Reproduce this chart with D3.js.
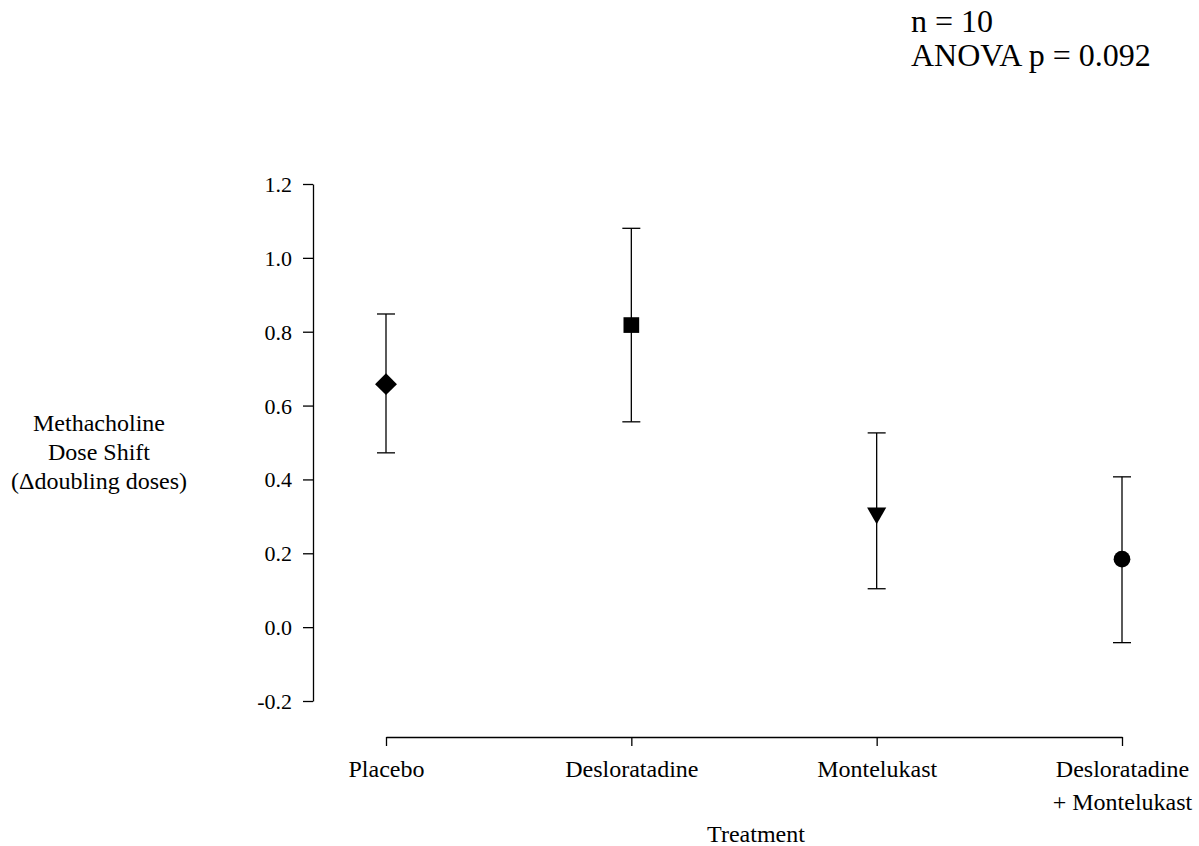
<!DOCTYPE html>
<html>
<head>
<meta charset="utf-8">
<script src="https://cdn.jsdelivr.net/npm/d3@7"></script>
<style>
  body { margin: 0; background: #fff; }
  svg text { font-family: "Liberation Serif", "Times New Roman", serif; fill: #000; }
</style>
</head>
<body>
<div id="stage"></div>
<script>

// values
var treatments = ["Placebo", "Desloratadine", "Montelukast", "Desloratadine\n+ Montelukast"];
var means = [0.658, 0.818, 0.309, 0.184];
var upper = [0.848, 1.080, 0.526, 0.407];
var lower = [0.472, 0.556, 0.104, -0.042];
var symbols = ["diamond", "square", "triangleDown", "circle"];
var yTicks = [-0.2, 0, 0.2, 0.4, 0.6, 0.8, 1.0, 1.2];

var W = 1199, H = 846;
var serif = "Liberation Serif, Times New Roman, serif";

var svg = d3.select("#stage")
  .append("svg")
  .attr("width", W)
  .attr("height", H);

var x = d3.scalePoint().domain(treatments).range([386, 1122]).padding(0);
var y = d3.scaleLinear().domain([-0.2, 1.2]).range([701, 184]);

// y axis
var fmt = d3.format(".1f");
var yAxis = d3.axisLeft(y).tickValues(yTicks).tickSize(10).tickSizeOuter(0)
  .tickFormat(function(d){ return fmt(d).replace("\u2212", "-"); });
var gy = svg.append("g").attr("transform", "translate(313,0)")
  .call(yAxis)
  .attr("font-family", serif).attr("font-size", 22);
gy.select(".domain").attr("stroke", "#000").attr("stroke-width", 1.3);
gy.selectAll(".tick line").attr("stroke", "#000").attr("stroke-width", 1.3);
gy.selectAll(".tick text")
  .attr("x", -21)
  .attr("dy", "0.34em")
  .style("font-size", "22px");

// x axis, detached below
var xAxis = d3.axisBottom(x).tickSize(9).tickSizeOuter(0).tickFormat("");
var gx = svg.append("g").attr("transform", "translate(0,737)").call(xAxis)
  .attr("font-family", serif);
gx.select(".domain").attr("stroke", "#000").attr("stroke-width", 1.3);
gx.selectAll(".tick line").attr("stroke", "#000").attr("stroke-width", 1.3);

gx.selectAll(".tick").each(function(d){
  var lines = d.split("\n");
  var t = d3.select(this).append("text")
    .attr("text-anchor", "middle")
    .style("font-size", "24px")
    .attr("y", 40);
  lines.forEach(function(l, i){
    t.append("tspan").attr("x", 0).attr("dy", i == 0 ? 0 : 33).text(l);
  });
});

// error bars
var cap = 9;
var bars = svg.append("g");
treatments.forEach(function(t, i){
  var cx = x(t);
  bars.append("line").attr("x1", cx).attr("x2", cx)
    .attr("y1", y(upper[i])).attr("y2", y(lower[i]))
    .attr("stroke", "#000").attr("stroke-width", 1.3);
  [upper[i], lower[i]].forEach(function(v){
    bars.append("line").attr("x1", cx - cap).attr("x2", cx + cap)
      .attr("y1", y(v)).attr("y2", y(v))
      .attr("stroke", "#000").attr("stroke-width", 1.3);
  });
});

// markers
var shapes = {
  diamond: d3.symbol().type(d3.symbolSquare).size(240),
  square: d3.symbol().type(d3.symbolSquare).size(246),
  triangleDown: d3.symbol().type(d3.symbolTriangle).size(160),
  circle: d3.symbol().type(d3.symbolCircle).size(220)
};
treatments.forEach(function(t, i){
  var rot = "";
  if (symbols[i] == "triangleDown") rot = " rotate(180)";
  if (symbols[i] == "diamond") rot = " rotate(45)";
  svg.append("path")
    .attr("d", shapes[symbols[i]]())
    .attr("transform", "translate(" + x(t) + "," + y(means[i]) + ")" + rot)
    .attr("fill", "#000");
});

// axis titles
var yt = svg.append("text").attr("text-anchor", "middle").style("font-size", "24px");
["Methacholine", "Dose Shift", "(\u0394doubling doses)"].forEach(function(l, i){
  yt.append("tspan").attr("x", 99).attr("y", 431 + i * 29).text(l);
});

svg.append("text").attr("x", 756).attr("y", 842)
  .attr("text-anchor", "middle").style("font-size", "24px").text("Treatment");

// annotation
svg.append("text").attr("x", 911).attr("y", 32).style("font-size", "32px").text("n = 10");
svg.append("text").attr("x", 911).attr("y", 66).style("font-size", "32px").text("ANOVA p = 0.092");

</script>
</body>
</html>
